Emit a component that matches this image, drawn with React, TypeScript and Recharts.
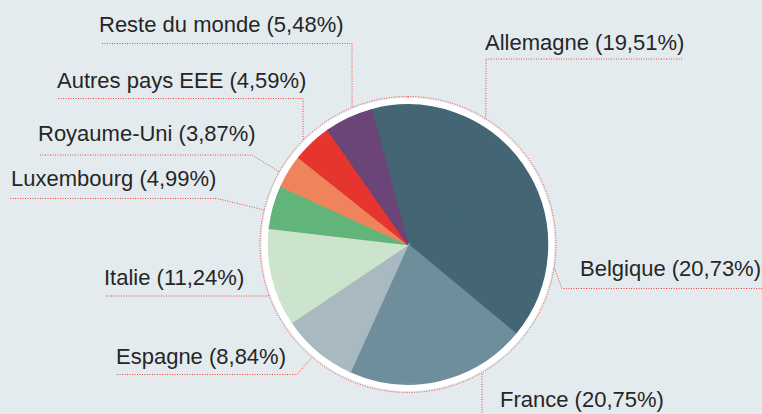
import { PieChart, Pie, Cell } from "recharts";

const countries = [
  "Allemagne", "Belgique", "France", "Espagne", "Italie",
  "Luxembourg", "Royaume-Uni", "Autres pays EEE", "Reste du monde",
];
const shares = [19.51, 20.73, 20.75, 8.84, 11.24, 4.99, 3.87, 4.59, 5.48];
const colors = [
  "#436574", "#436574", "#6f8e9b", "#a8b9c2", "#cde4cc",
  "#62b57a", "#ef845c", "#e5352e", "#6b4578",
];

const data = countries.map((name, i) => ({ name, value: shares[i] }));

const BG = "#e4ebee";
const RED = "#e8453c";
const RING_R = 148;

// annotation layout: text anchor, leader points before the circle, angle on circle (deg from top, clockwise)
const labelLayout: Record<string, { tx: number; ty: number; pts: number[][]; angle: number }> = {
  "Allemagne": { tx: 485, ty: 50, pts: [[682, 59], [486, 59]], angle: 31.7 },
  "Belgique": { tx: 580, ty: 276, pts: [[762, 288.5], [562, 288.5]], angle: 99 },
  "France": { tx: 500, ty: 407, pts: [[482, 420]], angle: 150 },
  "Espagne": { tx: 116, ty: 364, pts: [[117, 374.5], [297, 374.5]], angle: -139.6 },
  "Italie": { tx: 104, ty: 285, pts: [[106, 296], [269, 296]], angle: -110 },
  "Luxembourg": { tx: 11, ty: 186, pts: [[10, 198.5], [217, 198.5]], angle: -76.5 },
  "Royaume-Uni": { tx: 38, ty: 141, pts: [[40, 155], [252, 155]], angle: -60.5 },
  "Autres pays EEE": { tx: 57, ty: 87.5, pts: [[58, 98.5], [303, 98.5]], angle: -45.1 },
  "Reste du monde": { tx: 99, ty: 32, pts: [[102, 43.5], [352, 43.5]], angle: -22.2 },
};

const fmt = (v: number) => v.toFixed(2).replace(".", ",");

function renderLabel(props: any) {
  const { cx, cy, name, value } = props;
  const l = labelLayout[name];
  if (!l) return null;
  const a = (l.angle * Math.PI) / 180;
  const ex = cx + RING_R * Math.sin(a);
  const ey = cy - RING_R * Math.cos(a);
  const d = l.pts.map((p, i) => `${i === 0 ? "M" : "L"}${p[0]},${p[1]}`).join(" ") + ` L${ex},${ey}`;
  return (
    <g key={name}>
      <path d={d} fill="none" stroke={RED} strokeWidth={1} strokeDasharray="1 1.5" />
      <text x={l.tx} y={l.ty} fontSize={22} fill="#262626"
        fontFamily="'Liberation Sans', Arial, Helvetica, sans-serif">
        {`${name} (${fmt(value)}%)`}
      </text>
    </g>
  );
}

export default function App() {
  return (
    <div style={{ position: "absolute", left: 0, top: 0, width: 762, height: 414, background: BG, overflow: "hidden" }}>
      <PieChart width={762} height={414} margin={{ top: 0, right: 0, bottom: 0, left: 0 }}>
        <Pie data={[{ value: 1 }]} dataKey="value" cx={408} cy={244.5} outerRadius={RING_R}
          startAngle={90} endAngle={-270} fill="none" stroke={RED} strokeWidth={1}
          strokeDasharray="1 1.5" isAnimationActive={false} />
        <Pie data={[{ value: 1 }]} dataKey="value" cx={408} cy={244.5} outerRadius={146.5}
          startAngle={90} endAngle={-270} fill="#ffffff" stroke="none" isAnimationActive={false} />
        <Pie data={data} dataKey="value" nameKey="name" cx={408} cy={244.5} outerRadius={139.5}
          startAngle={105.2} endAngle={-254.8} label={renderLabel} labelLine={false}
          stroke="none" isAnimationActive={false}>
          {data.map((d, i) => (
            <Cell key={d.name} fill={colors[i]} stroke={colors[i]} strokeWidth={1.5} />
          ))}
        </Pie>
      </PieChart>
    </div>
  );
}
